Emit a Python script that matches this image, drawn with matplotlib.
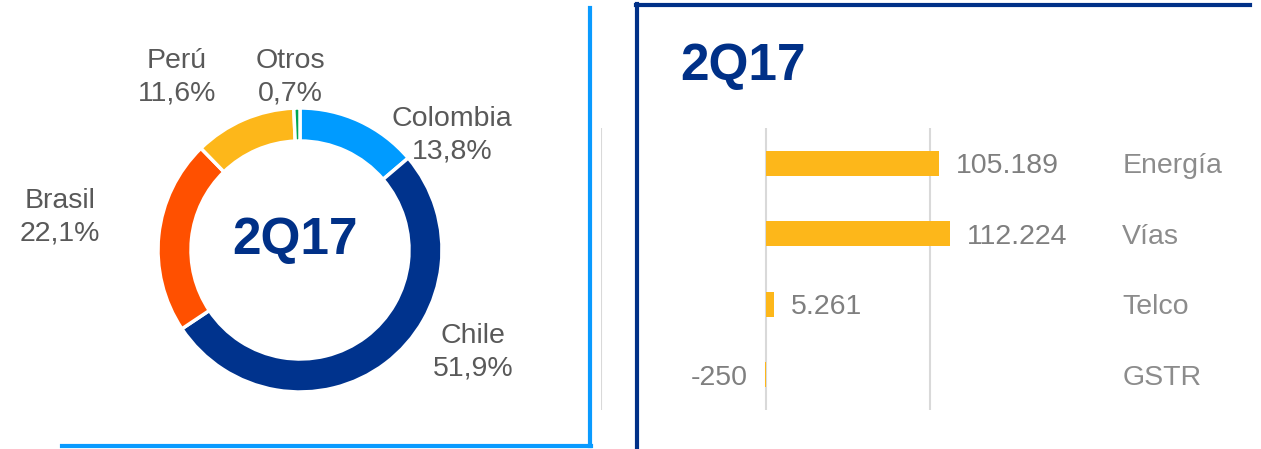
import matplotlib.pyplot as plt
from matplotlib.lines import Line2D

plt.rcParams['font.family'] = ['Liberation Sans', 'DejaVu Sans']

# donut data
paises = ['Colombia', 'Chile', 'Brasil', 'Perú', 'Otros']
pct = [13.8, 51.9, 22.1, 11.6, 0.7]
pct_txt = ['13,8%', '51,9%', '22,1%', '11,6%', '0,7%']
colores = ['#009BFF', '#00338D', '#FF5000', '#FDB71A', '#00A651']

# bar data
negocios = ['Energía', 'Vías', 'Telco', 'GSTR']
valores = [105189, 112224, 5261, -250]
val_txt = ['105.189', '112.224', '5.261', '-250']

W, H = 1261, 449
fig = plt.figure(figsize=(W / 100, H / 100), dpi=100)

navy = '#003087'
gris = '#595959'

def px(x0, y0, w, h):
    # pixel box (top-left origin) -> figure fraction
    return [x0 / W, 1 - (y0 + h) / H, w / W, h / H]

# ---- donut ----
cx, cy, R = 300, 250, 142
axp = fig.add_axes(px(cx - 160, cy - 160, 320, 320))
axp.pie(pct, colors=colores, startangle=90, counterclock=False, radius=R,
        wedgeprops=dict(width=33, edgecolor='white', linewidth=2.5))
axp.set_xlim(-160, 160)
axp.set_ylim(-160, 160)
axp.set_aspect('equal')
axp.axis('off')
axp.text(-5, 10, '2Q17', ha='center', va='center', fontsize=37,
         fontweight='bold', color=navy)

# label positions in pixels (center of the two-line block)
lab_pos = {'Colombia': (452, 135), 'Chile': (473, 352), 'Brasil': (60, 217),
           'Perú': (177, 77), 'Otros': (290, 77)}
for p, t in zip(paises, pct_txt):
    x, y = lab_pos[p]
    fig.text(x / W, 1 - y / H, p + '\n' + t, ha='center', va='center',
             fontsize=20.5, color=gris, linespacing=1.33)

# ---- bars ----
axb = fig.add_axes(px(601, 128, 493.5, 282))
ypos = list(range(len(negocios)))
axb.barh(ypos, valores, height=0.36, color='#FDB71A', zorder=2)
axb.set_xlim(-100000, 200000)
axb.set_ylim(3.5, -0.5)
axb.set_xticks([-100000, 0, 100000])
axb.set_yticks([])
axb.grid(axis='x', color='#D9D9D9', linewidth=1.5, zorder=0)
axb.tick_params(axis='x', length=0, labelbottom=False)
for s in axb.spines.values():
    s.set_visible(False)

for i, (v, t) in enumerate(zip(valores, val_txt)):
    off = 17 if v >= 0 else -17
    axb.annotate(t, (v, i), xytext=(off, 0), textcoords='offset pixels',
                 ha='left' if v >= 0 else 'right', va='center_baseline',
                 fontsize=20.5, color='#7F7F7F')
    axb.annotate(negocios[i], (1.056, i), xycoords=('axes fraction', 'data'),
                 ha='left', va='center_baseline', fontsize=20.5,
                 color='#8C8C8C', annotation_clip=False)

fig.text(680 / W, 1 - 66 / H, '2Q17', ha='left', va='center', fontsize=37,
         fontweight='bold', color=navy)

# ---- panel frames ----
fig.add_artist(Line2D([590 / W, 590 / W], [1 - 8 / H, 1 - 446 / H],
                      color='#0A9BFF', linewidth=3))
fig.add_artist(Line2D([62 / W, 591 / W], [1 - 446 / H, 1 - 446 / H],
                      color='#0A9BFF', linewidth=3))
fig.add_artist(Line2D([637 / W, 637 / W], [1 - 4 / H, 0],
                      color=navy, linewidth=3))
fig.add_artist(Line2D([636 / W, 1250 / W], [1 - 5 / H, 1 - 5 / H],
                      color=navy, linewidth=3))

fig.savefig('out.png', dpi=100)
